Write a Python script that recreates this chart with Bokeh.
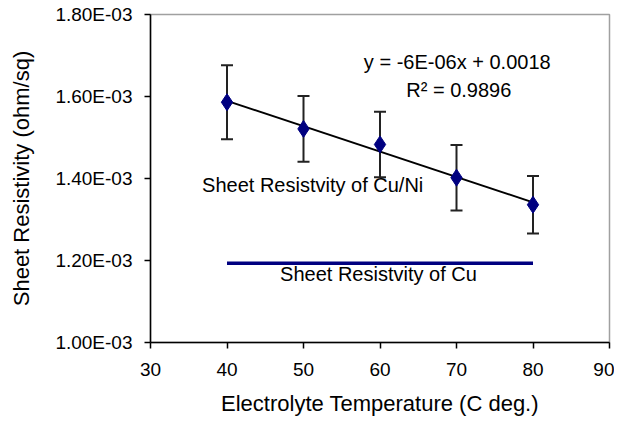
import numpy as np
from bokeh.plotting import figure
from bokeh.models import ColumnDataSource, FixedTicker, Whisker, TeeHead, Label, Range1d
from bokeh.embed import file_html
from bokeh.resources import INLINE

# Data
temperature = [40, 50, 60, 70, 80]
resistivity_cuni = [1.586e-3, 1.521e-3, 1.483e-3, 1.402e-3, 1.336e-3]
error = [0.090e-3, 0.080e-3, 0.080e-3, 0.080e-3, 0.070e-3]
cu_x = [40, 80]
cu_y = [1.193e-3, 1.193e-3]
x_ticks = [30, 40, 50, 60, 70, 80, 90]
y_ticks = [1.0e-3, 1.2e-3, 1.4e-3, 1.6e-3, 1.8e-3]
y_tick_labels = ["1.00E-03", "1.20E-03", "1.40E-03", "1.60E-03", "1.80E-03"]
eq_text = "y = -6E-06x + 0.0018"
r2_text = "R\u00b2 = 0.9896"

FONT = "Liberation Sans"

p = figure(width=614, height=419, output_backend="svg", toolbar_location=None,
           x_range=Range1d(30, 90), y_range=Range1d(1.0e-3, 1.8e-3),
           min_border_left=150, min_border_right=5, min_border_top=14, min_border_bottom=77)
p.background_fill_color = "white"
p.border_fill_color = "white"
p.outline_line_color = "#a0a0a0"
p.outline_line_width = 1.5
p.xgrid.visible = False
p.ygrid.visible = False

# Trend line (least squares fit of the data)
slope, intercept = np.polyfit(temperature, resistivity_cuni, 1)
tx = np.array([temperature[0], temperature[-1]])
p.line(tx, slope * tx + intercept, line_color="black", line_width=2)

# Error bars
src = ColumnDataSource(dict(
    x=temperature, y=resistivity_cuni,
    upper=[v + e for v, e in zip(resistivity_cuni, error)],
    lower=[v - e for v, e in zip(resistivity_cuni, error)],
))
w = Whisker(base="x", upper="upper", lower="lower", source=src,
            line_color="#222222", line_width=2,
            upper_head=TeeHead(size=12, line_color="#222222", line_width=2),
            lower_head=TeeHead(size=12, line_color="#222222", line_width=2))
p.add_layout(w)

p.scatter("x", "y", source=src, marker="diamond", size=17,
          fill_color="#000080", line_color="#000080")

# Cu reference line
p.line(cu_x, cu_y, line_color="#000080", line_width=3.5)

# Annotations
for txt, x, y in [(eq_text, 70.1, 1.683e-3), (r2_text, 70.3, 1.615e-3),
                  ("Sheet Resistvity of Cu/Ni", 51.2, 1.383e-3),
                  ("Sheet Resistvity of Cu", 59.8, 1.166e-3)]:
    p.add_layout(Label(x=x, y=y, text=txt, text_align="center", text_baseline="middle",
                       text_font=FONT, text_font_size="20px", text_color="black"))

# Axes
p.xaxis.ticker = FixedTicker(ticks=x_ticks)
p.yaxis.ticker = FixedTicker(ticks=y_ticks)
p.yaxis.major_label_overrides = {t: l for t, l in zip(y_ticks, y_tick_labels)}
for ax in (p.xaxis[0], p.yaxis[0]):
    ax.axis_line_color = "black"
    ax.axis_line_width = 1.5
    ax.major_tick_line_color = "black"
    ax.major_tick_line_width = 1.5
    ax.major_tick_out = 6
    ax.major_tick_in = 0
    ax.minor_tick_line_color = None
    ax.major_label_text_font = FONT
    ax.major_label_text_font_size = "19px"
    ax.major_label_text_color = "black"
    ax.axis_label_text_font = FONT
    ax.axis_label_text_font_size = "22px"
    ax.axis_label_text_font_style = "normal"
    ax.axis_label_text_color = "black"

p.xaxis.axis_label = "Electrolyte Temperature (C deg.)"
p.yaxis.axis_label = "Sheet Resistivity (ohm/sq)"
p.xaxis.major_label_standoff = 14
p.yaxis.major_label_standoff = 12
p.xaxis.axis_label_standoff = 12
p.yaxis.axis_label_standoff = 18

open("out.html", "w").write(file_html(p, INLINE))
